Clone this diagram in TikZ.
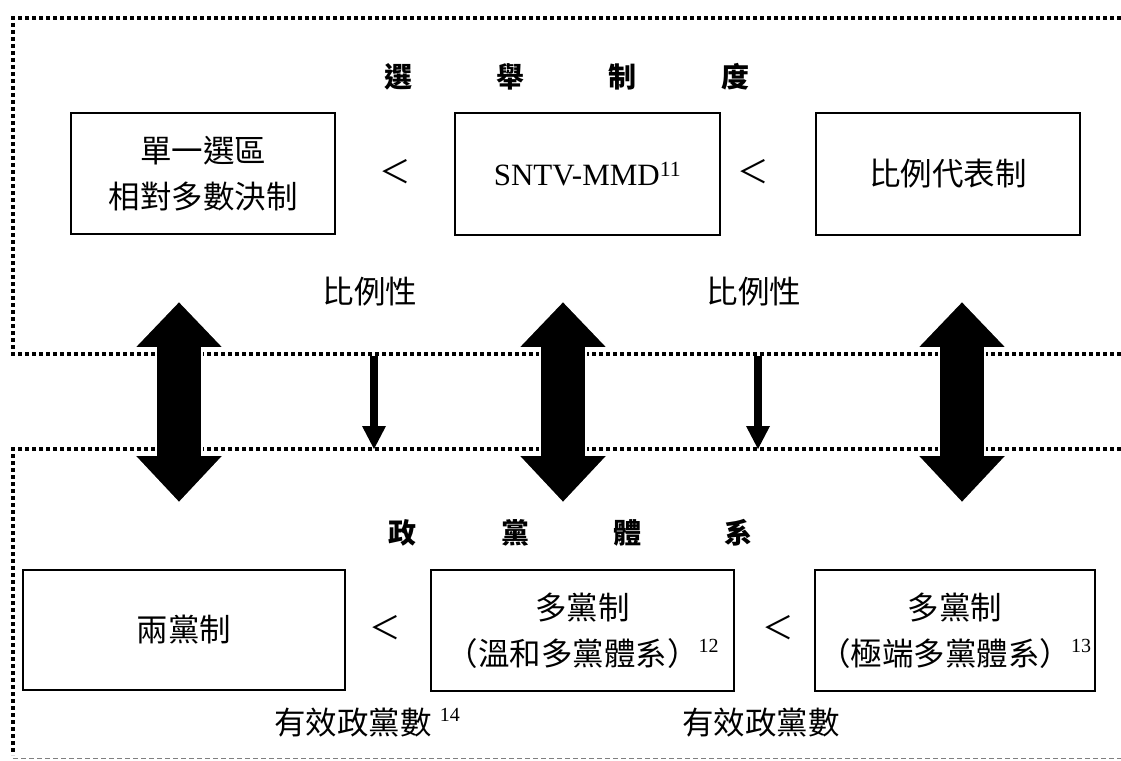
\documentclass[tikz,border=0pt]{standalone}
\usepackage{fontspec}
\setmainfont{Liberation Serif}
\newfontfamily\cjk{Noto Sans CJK TC}
\usetikzlibrary{arrows.meta}
\newcommand\supnum[1]{{\rmfamily\raisebox{0.42em}{\fontsize{20}{20}\selectfont #1}}}
\tikzset{
  dotframe/.style={line width=4pt, dash pattern=on 3.6pt off 3.4pt},
  thinframe/.style={line width=1pt, gray, dash pattern=on 5pt off 3pt},
  box/.style={draw, line width=1.6pt, inner sep=0pt, align=center, font=\cjk\fontsize{31.5}{46}\selectfont},
  titlechar/.style={inner sep=0pt, font=\cjk\bfseries\fontsize{28}{32}\selectfont},
  lbl/.style={inner sep=0pt, font=\cjk\fontsize{31.5}{36}\selectfont},
  smallarr/.style={line width=7.5pt, -{Triangle[width=24pt,length=23pt,line width=0pt]}},
  bigarrow/.pic={\filldraw[fill=black, draw=white, line width=1.6pt]
    (0,0) -- (45,47) -- (23,47) -- (23,154) -- (45,154) -- (0,202)
    -- (-45,154) -- (-23,154) -- (-23,47) -- (-45,47) -- cycle;}
}
\begin{document}
\begin{tikzpicture}[x=1pt,y=-1pt]
\useasboundingbox (0,0) rectangle (1121,760);
% frames
\coordinate (fa) at (1121,18);
\coordinate (fb) at (13,18);
\coordinate (fc) at (13,354);
\coordinate (fd) at (1121,354);
\coordinate (ga) at (1121,449);
\coordinate (gb) at (13,449);
\coordinate (gc) at (13,755);
\coordinate (gd) at (13,758);
\coordinate (ge) at (1121,758);
\draw[dotframe] (fa) -- (fb) -- (fc) -- (fd);
\draw[dotframe] (ga) -- (gb) -- (gc);
\draw[thinframe] (gd) -- (ge);
% top title
\node[titlechar] (t1) at (398,77) {選};
\node[titlechar] (t2) at (510,77) {舉};
\node[titlechar] (t3) at (622,77) {制};
\node[titlechar] (t4) at (735,77) {度};
% top boxes
\node[box, minimum width=264pt, minimum height=121pt] (b1) at (203,173.5) {單一選區\\相對多數決制};
\node[box, minimum width=265pt, minimum height=122pt] (b2) at (587.5,174) {\rmfamily\fontsize{31}{37}\selectfont SNTV-MMD\textsuperscript{11}};
\node[box, minimum width=264pt, minimum height=122pt] (b3) at (948,174) {比例代表制};
\node[lbl] (lt1) at (395,172) {＜};
\node[lbl] (lt2) at (753,172) {＜};
\node[lbl] (p1) at (370,292) {比例性};
\node[lbl] (p2) at (754,292) {比例性};
% big arrows
\coordinate (u1) at (179,301);
\coordinate (u2) at (563,301);
\coordinate (u3) at (962,301);
\pic at (u1) {bigarrow};
\pic at (u2) {bigarrow};
\pic at (u3) {bigarrow};
% small arrows
\coordinate (s1) at (374,356);
\coordinate (e1) at (374,449);
\coordinate (s2) at (758,356);
\coordinate (e2) at (758,449);
\draw[smallarr] (s1) -- (e1);
\draw[smallarr] (s2) -- (e2);
% bottom title
\node[titlechar] (v1) at (402,533) {政};
\node[titlechar] (v2) at (515,533) {黨};
\node[titlechar] (v3) at (627,533) {體};
\node[titlechar] (v4) at (738,533) {系};
% bottom boxes
\node[box, minimum width=322pt, minimum height=120pt] (b4) at (184,630) {兩黨制};
\node[box, minimum width=303pt, minimum height=121pt] (b5) at (582.5,630.5) {多黨制\\（溫和多黨體系）\supnum{12}};
\node[box, minimum width=280pt, minimum height=121pt] (b6) at (955,630.5) {多黨制\\（極端多黨體系）\supnum{13}};
\node[lbl] (lt3) at (385,628) {＜};
\node[lbl] (lt4) at (778,628) {＜};
\node[lbl] (n1) at (367,723) {有效政黨數\hspace{8pt}\supnum{14}};
\node[lbl] (n2) at (761,723) {有效政黨數};
\end{tikzpicture}
\end{document}
